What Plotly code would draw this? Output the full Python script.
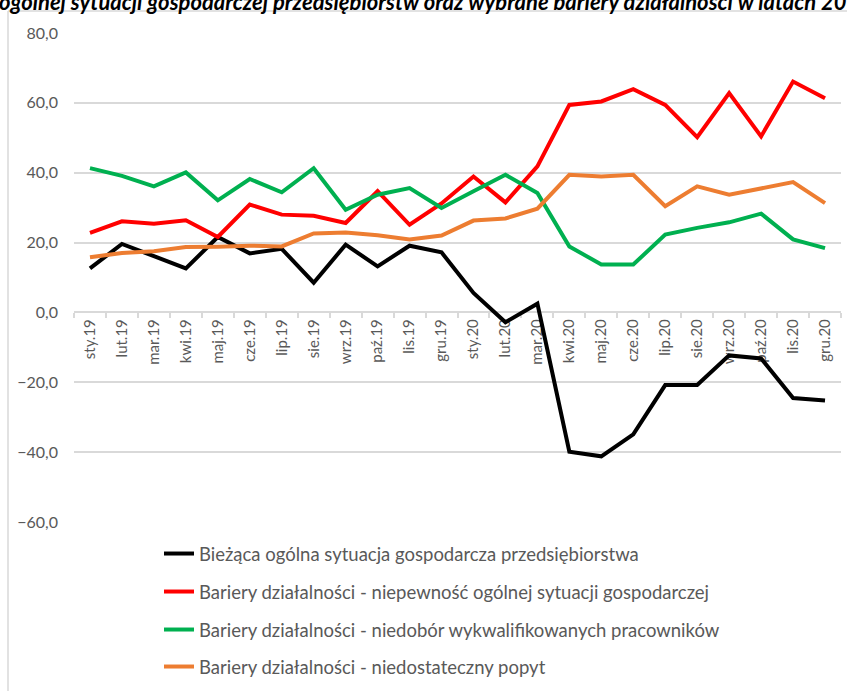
import plotly.graph_objects as go

months = ["sty.19", "lut.19", "mar.19", "kwi.19", "maj.19", "cze.19", "lip.19", "sie.19",
          "wrz.19", "paź.19", "lis.19", "gru.19", "sty.20", "lut.20", "mar.20", "kwi.20",
          "maj.20", "cze.20", "lip.20", "sie.20", "wrz.20", "paź.20", "lis.20", "gru.20"]

biezaca = [12.6, 19.6, 16.1, 12.6, 21.6, 16.9, 18.2, 8.5, 19.4, 13.2, 19.1, 17.2,
           5.6, -2.8, 2.5, -39.9, -41.2, -34.9, -20.8, -20.8, -12.3, -13.2, -24.5, -25.2]
niepewnosc = [22.8, 26.1, 25.4, 26.4, 21.6, 30.9, 28.0, 27.7, 25.6, 34.7, 25.1, 31.2,
              38.9, 31.5, 41.8, 59.4, 60.4, 63.9, 59.4, 50.2, 62.8, 50.4, 66.1, 61.3]
niedobor = [41.3, 39.1, 36.1, 40.1, 32.1, 38.2, 34.4, 41.3, 29.4, 33.7, 35.6, 29.9,
            34.7, 39.4, 34.2, 18.9, 13.7, 13.7, 22.3, 24.2, 25.8, 28.3, 20.9, 18.4]
popyt = [15.8, 17.0, 17.5, 18.7, 18.8, 19.1, 18.9, 22.6, 22.9, 22.1, 20.9, 22.0,
         26.3, 26.9, 29.7, 39.4, 38.9, 39.4, 30.4, 36.1, 33.7, 35.4, 37.3, 31.3]

names = ["Bieżąca ogólna sytuacja gospodarcza przedsiębiorstwa",
         "Bariery działalności - niepewność ogólnej sytuacji gospodarczej",
         "Bariery działalności - niedobór wykwalifikowanych pracowników",
         "Bariery działalności - niedostateczny popyt"]
colors = ["#000000", "#FF0000", "#00B050", "#ED7D31"]
series = [biezaca, niepewnosc, niedobor, popyt]

title_text = "ogólnej sytuacji gospodarczej przedsiębiorstw oraz wybrane bariery działalności w latach 2019-2020"

W, H = 847, 691
L, R, T, B = 74, 841, 33, 523
pw, ph = R - L, B - T

def px(x):
    return (x - L) / pw

def py(y):
    return (B - y) / ph

FONT = "Lato"
GRAY = "#595959"

fig = go.Figure()
legend_ids = ["legend", "legend2", "legend3", "legend4"]
for nm, col, ys, lg in zip(names, colors, series, legend_ids):
    fig.add_trace(go.Scatter(x=months, y=ys, name=nm, mode="lines",
                             line=dict(color=col, width=4), legend=lg))

leg_y = [554, 592, 630, 667]
legend_common = dict(x=px(159), xanchor="left", yanchor="middle",
                     bgcolor="rgba(0,0,0,0)", borderwidth=0,
                     font=dict(family=FONT, size=18.5, color=GRAY))
layout_legends = {}
for lg, yy in zip(legend_ids, leg_y):
    layout_legends[lg] = dict(legend_common, y=py(yy))

fig.update_layout(
    width=W, height=H,
    margin=dict(l=L, r=W - R, t=T, b=H - B, pad=0),
    paper_bgcolor="white", plot_bgcolor="white",
    separators=", ",
    showlegend=True,
    font=dict(family=FONT, color=GRAY),
    **layout_legends,
    xaxis=dict(type="category", range=[-0.5, 23.5], anchor="free", position=60 / 140,
               showline=True, linecolor="#d9d9d9", linewidth=1.5,
               ticks="outside", tickson="boundaries", ticklen=5, tickcolor="#d9d9d9",
               tickwidth=1.5, tickangle=-90, showgrid=False, layer="below traces",
               tickfont=dict(family=FONT, size=15, color=GRAY)),
    yaxis=dict(range=[-60, 80], dtick=20, tick0=0, tickformat=".1f",
               showgrid=True, gridcolor="#d9d9d9", gridwidth=1.5,
               zeroline=False, showline=False, ticks="", ticklabelstandoff=15,
               tickfont=dict(family=FONT, size=16, color=GRAY)),
    shapes=[
        dict(type="line", xref="paper", yref="paper", x0=px(8), x1=px(8),
             y0=py(11), y1=py(720), line=dict(color="#d9d9d9", width=1.5)),
        dict(type="line", xref="paper", yref="paper", x0=px(8), x1=px(880),
             y0=py(11), y1=py(11), line=dict(color="#d9d9d9", width=1.5)),
    ],
    annotations=[
        dict(text="<b><i>" + title_text + "</i></b>", xref="paper", yref="paper",
             x=px(-3), y=py(-14), xanchor="left", yanchor="top", showarrow=False,
             font=dict(family=FONT, size=22, color="#000000")),
    ],
)

fig.write_html("out.html", config={"displayModeBar": False},
               post_script="document.body.style.margin='0';")
